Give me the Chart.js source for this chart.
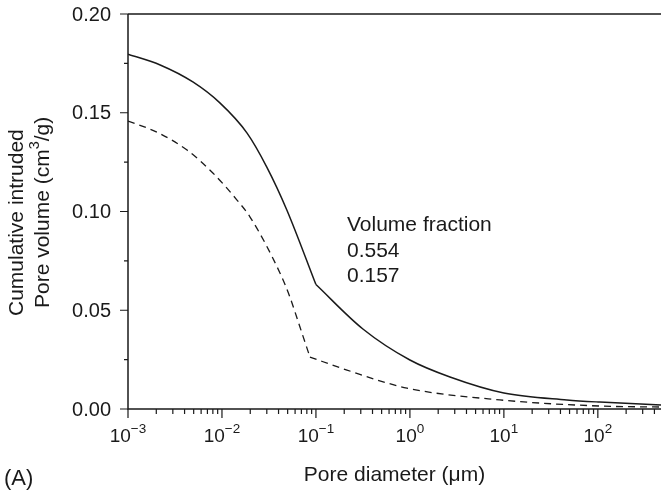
<!DOCTYPE html>
<html>
<head>
<meta charset="utf-8">
<script src="https://cdn.jsdelivr.net/npm/chart.js@4"></script>
<style>
  body { margin: 0; background: #fff; }
  canvas { display: block; }
</style>
</head>
<body>
<canvas id="poreChart" width="661" height="491"></canvas>
<script>
// pore diameter (um) and cumulative intruded volume (cm3/g)
const solidDiam = [0.001, 0.0022, 0.0049, 0.0095, 0.0185, 0.030, 0.049, 0.1, 0.316, 1, 2.67, 10, 46.8, 105, 470]
const solidVol  = [0.1797, 0.1742, 0.1656, 0.155, 0.1397, 0.1225, 0.1008, 0.063, 0.0405, 0.0248, 0.0162, 0.0081, 0.0046, 0.0035, 0.002]

const dashDiam = [0.001, 0.002, 0.00425, 0.008, 0.01445, 0.0199, 0.0414, 0.0528, 0.0676, 0.0863, 0.214, 0.93, 9.06, 105, 470]
const dashVol  = [0.1458, 0.1403, 0.1311, 0.1195, 0.1058, 0.0972, 0.0689, 0.0567, 0.0415, 0.0263, 0.0197, 0.0106, 0.0046, 0.0015, 0.001]

// diameter where each curve has its sharp bend
const solidKink = 0.1
const dashKink = 0.0863

const yMajor = [0, 0.05, 0.10, 0.15, 0.20]
const yMinor = [0.025, 0.075, 0.125, 0.175]
const xExp = [-3, -2, -1, 0, 1, 2]

const annotation = ['Volume fraction', '0.554', '0.157']

const toPoints = (xs, ys) => xs.map((x, i) => ({ x: x, y: ys[i] }))
// split a curve in two at the bend, both halves share the bend point
const splitAt = (xs, ys, k) => {
  const pts = toPoints(xs, ys)
  const i = xs.indexOf(k)
  return [pts.slice(0, i + 1), pts.slice(i)]
}

const FONT = '"Liberation Sans", Arial, Helvetica, sans-serif'
const INK = '#1a1a1a'

// draws a row of pieces, some of them superscript
const drawPieces = (ctx, pieces, x, y, size, supSize) => {
  let cx = x
  pieces.forEach(p => {
    ctx.font = `${p.sup ? supSize : size}px ${FONT}`
    ctx.fillText(p.t, cx, p.sup ? y - size * 0.5 : y)
    cx += ctx.measureText(p.t).width
  })
}
const piecesWidth = (ctx, pieces, size, supSize) => {
  let w = 0
  pieces.forEach(p => {
    ctx.font = `${p.sup ? supSize : size}px ${FONT}`
    w += ctx.measureText(p.t).width
  })
  return w
}

const axesPlugin = {
  id: 'axesPlugin',
  afterDraw(chart) {
    const ctx = chart.ctx
    const xs = chart.scales.x
    const ys = chart.scales.y
    const a = chart.chartArea
    ctx.save()
    ctx.strokeStyle = INK
    ctx.fillStyle = INK
    ctx.lineWidth = 1.5

    // frame: left, bottom, top
    ctx.beginPath()
    ctx.moveTo(a.left, a.top)
    ctx.lineTo(a.left, a.bottom)
    ctx.lineTo(a.right, a.bottom)
    ctx.moveTo(a.left, a.top)
    ctx.lineTo(a.right, a.top)
    ctx.stroke()

    // y ticks
    ctx.lineWidth = 1.2
    ctx.beginPath()
    yMajor.forEach(v => {
      const py = ys.getPixelForValue(v)
      ctx.moveTo(a.left - 8, py); ctx.lineTo(a.left, py)
    })
    yMinor.forEach(v => {
      const py = ys.getPixelForValue(v)
      ctx.moveTo(a.left - 4, py); ctx.lineTo(a.left, py)
    })
    // x ticks
    xExp.forEach(e => {
      for (let k = 1; k <= 9; k++) {
        const v = k * Math.pow(10, e)
        if (v > xs.max) break
        const px = xs.getPixelForValue(v)
        ctx.moveTo(px, a.bottom); ctx.lineTo(px, a.bottom + (k === 1 ? 9 : 5))
      }
    })
    ctx.stroke()

    // y tick labels
    ctx.font = `20px ${FONT}`
    ctx.textAlign = 'right'
    ctx.textBaseline = 'middle'
    yMajor.forEach(v => {
      ctx.fillText(v.toFixed(2), a.left - 17, ys.getPixelForValue(v) + 1)
    })

    // x tick labels 10^n
    ctx.textAlign = 'left'
    ctx.textBaseline = 'alphabetic'
    xExp.forEach(e => {
      const pieces = [{ t: '10' }, { t: (e < 0 ? '\u2212' : '') + Math.abs(e), sup: true }]
      const w = piecesWidth(ctx, pieces, 19, 13.5)
      drawPieces(ctx, pieces, xs.getPixelForValue(Math.pow(10, e)) - w / 2, 442, 19, 13.5)
    })

    // x title
    ctx.font = `21px ${FONT}`
    ctx.textAlign = 'center'
    ctx.fillText('Pore diameter (\u03bcm)', (a.left + a.right) / 2, 481)

    // y title, two rotated lines
    ctx.save()
    ctx.translate(23, 316)
    ctx.rotate(-Math.PI / 2)
    ctx.textAlign = 'left'
    ctx.font = `21px ${FONT}`
    ctx.fillText('Cumulative intruded', 0, 0)
    ctx.restore()
    ctx.save()
    ctx.translate(49, 308)
    ctx.rotate(-Math.PI / 2)
    ctx.textAlign = 'left'
    drawPieces(ctx, [{ t: 'Pore volume (cm' }, { t: '3', sup: true }, { t: '/g)' }], 0, 0, 21, 14.5)
    ctx.restore()

    // annotation
    ctx.textAlign = 'left'
    ctx.font = `21px ${FONT}`
    annotation.forEach((t, i) => ctx.fillText(t, 347, 231 + i * 25.5))

    // panel label
    ctx.font = `22px ${FONT}`
    ctx.fillText('(A)', 4, 485)

    ctx.restore()
  }
}

const solidParts = splitAt(solidDiam, solidVol, solidKink)
const dashParts = splitAt(dashDiam, dashVol, dashKink)

const lineStyle = (pts, dashed) => ({
  data: pts,
  borderColor: INK,
  borderWidth: dashed ? 1.3 : 1.5,
  borderDash: dashed ? [7, 5] : [],
  pointRadius: 0,
  cubicInterpolationMode: 'monotone',
  fill: false
})

const ctx = document.getElementById('poreChart').getContext('2d')
const chart = new Chart(ctx, {
  type: 'line',
  data: {
    datasets: [
      lineStyle(solidParts[0], false),
      lineStyle(solidParts[1], false),
      lineStyle(dashParts[0], true),
      lineStyle(dashParts[1], true)
    ]
  },
  options: {
    responsive: false,
    animation: false,
    layout: { padding: { top: 14, right: 0, left: 0, bottom: 0 } },
    plugins: {
      legend: { display: false },
      tooltip: { enabled: false }
    },
    scales: {
      x: {
        type: 'logarithmic',
        min: 0.001,
        max: 470,
        grid: { display: false },
        border: { display: false },
        ticks: { display: false },
        afterFit: s => { s.height = 82 }
      },
      y: {
        type: 'linear',
        min: 0,
        max: 0.2,
        grid: { display: false },
        border: { display: false },
        ticks: { display: false },
        afterFit: s => { s.width = 128 }
      }
    }
  },
  plugins: [axesPlugin]
})
</script>
</body>
</html>
